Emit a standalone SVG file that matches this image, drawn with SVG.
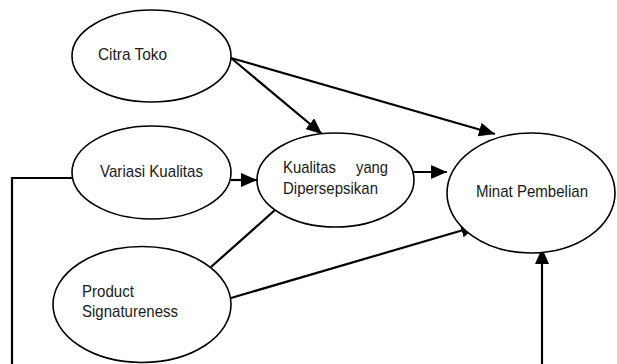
<svg xmlns="http://www.w3.org/2000/svg" width="617" height="364" viewBox="0 0 617 364">
<style>
.node ellipse{fill:#fff;stroke:#000;stroke-width:1.6}
.node text{font-family:"Liberation Sans",Arial,sans-serif;font-size:17px;fill:#1a1a1a}
.conn line,.conn polyline{stroke:#000;stroke-width:2.2;fill:none}
</style>
<defs>
<marker id="ah" markerUnits="userSpaceOnUse" markerWidth="18" markerHeight="14" refX="16" refY="7" orient="auto">
<path d="M0,0 L16,7 L0,14 Z" fill="#000"/>
</marker>
</defs>
<rect width="617" height="364" fill="#fff"/>
<g class="conn">
<line x1="231" y1="58" x2="322" y2="134" marker-end="url(#ah)"/>
<line x1="231" y1="58" x2="495" y2="134" marker-end="url(#ah)"/>
<line x1="231" y1="180" x2="257" y2="180" marker-end="url(#ah)"/>
<line x1="413" y1="172" x2="447" y2="172" marker-end="url(#ah)"/>
<line x1="211" y1="267" x2="275" y2="210"/>
<line x1="231" y1="298" x2="477" y2="226" marker-end="url(#ah)"/>
<line x1="542" y1="364" x2="542" y2="248" marker-end="url(#ah)"/>
<polyline points="72,178 12,178 12,364"/>
</g>
<g id="citra" class="node">
<ellipse cx="151.5" cy="56" rx="79.5" ry="46"/>
<text x="98" y="60" textLength="69" lengthAdjust="spacingAndGlyphs">Citra Toko</text>
</g>
<g id="variasi" class="node">
<ellipse cx="151.5" cy="172.5" rx="79.5" ry="46.5"/>
<text x="100" y="177" textLength="103" lengthAdjust="spacingAndGlyphs">Variasi Kualitas</text>
</g>
<g id="kualitas" class="node">
<ellipse cx="335.5" cy="180" rx="78.5" ry="47"/>
<text x="283" y="173" textLength="53" lengthAdjust="spacingAndGlyphs">Kualitas</text>
<text x="356" y="173" textLength="32" lengthAdjust="spacingAndGlyphs">yang</text>
<text x="283" y="194" textLength="95" lengthAdjust="spacingAndGlyphs">Dipersepsikan</text>
</g>
<g id="minat" class="node">
<ellipse cx="531" cy="193" rx="84" ry="60"/>
<text x="476" y="197" textLength="112" lengthAdjust="spacingAndGlyphs">Minat Pembelian</text>
</g>
<g id="product" class="node">
<ellipse cx="142" cy="304.5" rx="89" ry="58"/>
<text x="82" y="297" textLength="52" lengthAdjust="spacingAndGlyphs">Product</text>
<text x="82" y="317" textLength="96" lengthAdjust="spacingAndGlyphs">Signatureness</text>
</g>
</svg>
